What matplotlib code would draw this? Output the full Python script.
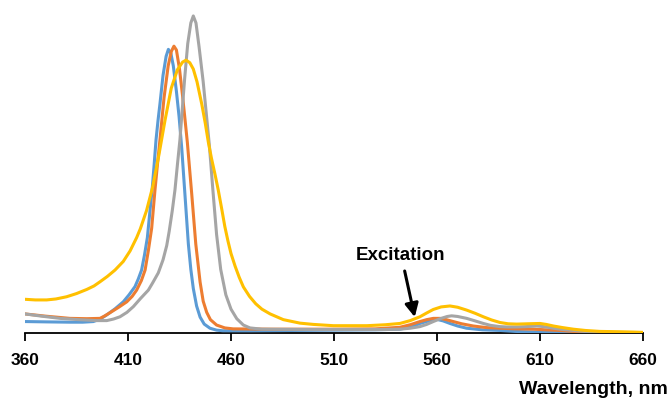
import matplotlib
matplotlib.use("Agg")
import matplotlib.pyplot as plt

# ---- data ----
wl_blue = [360, 370, 381.8, 388, 393.2, 396.5, 399.7, 403.7, 407.7, 410.5, 413.4, 415, 416.6, 418, 419.4,
           420.6, 421.7, 422.7, 423.6, 424.6, 425.5, 427, 428.5, 429.6, 430.8, 432, 433.5, 434.8, 436.1,
           437.7, 439.3, 440.5, 441.7, 443.3, 445, 447, 449.8, 453, 456, 470, 490, 510, 530, 542, 548,
           551.7, 556, 559.9, 563, 566.3, 570, 574.4, 582, 590.6, 598, 606.8, 620, 660]
int_blue = [0.036, 0.035, 0.034, 0.034, 0.036, 0.044, 0.057, 0.076, 0.098, 0.12, 0.146, 0.17, 0.198, 0.245, 0.30,
            0.38, 0.45, 0.53, 0.607, 0.67, 0.72, 0.81, 0.87, 0.892, 0.88, 0.84, 0.76, 0.68, 0.58,
            0.43, 0.28, 0.20, 0.14, 0.085, 0.05, 0.028, 0.015, 0.009, 0.007, 0.007, 0.008, 0.009, 0.010, 0.012, 0.020,
            0.030, 0.038, 0.043, 0.038, 0.030, 0.022, 0.015, 0.010, 0.008, 0.005, 0.003, 0.001, 0.0]

wl_orange = [360, 370, 381.8, 390, 396.4, 398.5, 401.3, 405.5, 409.4, 412, 414.2, 416.5, 418.3, 419.9, 421.5,
             423.1, 424.3, 425.5, 427.5, 429.5, 431, 432.3, 433.5, 435, 436.5, 437.7, 438.8, 440.9, 442.9,
             445, 446.5, 448.2, 450, 453, 457, 461, 480, 510, 530, 542, 547, 551.7, 555, 558.2, 561.5, 564.5,
             567.9, 572, 577.6, 584, 590.6, 598, 606.8, 613, 619.7, 626, 632.7, 645, 660]
int_orange = [0.060, 0.053, 0.046, 0.045, 0.046, 0.053, 0.064, 0.081, 0.098, 0.115, 0.135, 0.165, 0.198, 0.26, 0.33,
              0.45, 0.53, 0.607, 0.74, 0.84, 0.885, 0.902, 0.89, 0.83, 0.745, 0.67, 0.60, 0.44, 0.28,
              0.16, 0.10, 0.065, 0.042, 0.025, 0.016, 0.013, 0.012, 0.012, 0.013, 0.018, 0.026, 0.036, 0.042, 0.046, 0.046, 0.042,
              0.036, 0.029, 0.022, 0.017, 0.015, 0.013, 0.012, 0.010, 0.008, 0.005, 0.003, 0.001, 0.001]

wl_gray = [360, 368, 377, 386, 394.8, 399.7, 403, 406.1, 409.5, 412.6, 416, 419.9, 422, 424.7, 427, 428.8,
           430, 431.5, 432.8, 434, 435.2, 437.5, 439, 440.5, 441.7, 443, 444.5, 446.5, 448, 449.5, 451.2,
           453, 455, 457.5, 460, 462.8, 466, 469.2, 475, 500, 520, 535, 542, 547, 551.7, 555, 558.2, 562,
           565, 567.1, 570, 574.4, 578, 582.5, 586, 590.6, 594, 598.7, 603, 608.4, 612, 616.5, 621, 626.2,
           633, 645, 660]
int_gray = [0.060, 0.053, 0.046, 0.042, 0.039, 0.039, 0.044, 0.051, 0.065, 0.083, 0.108, 0.135, 0.158, 0.189, 0.23, 0.275,
            0.32, 0.385, 0.45, 0.53, 0.607, 0.80, 0.91, 0.975, 0.997, 0.975, 0.90, 0.79, 0.69, 0.59, 0.45,
            0.31, 0.20, 0.12, 0.075, 0.045, 0.025, 0.016, 0.012, 0.011, 0.011, 0.011, 0.012, 0.015, 0.020, 0.027, 0.036, 0.046,
            0.052, 0.054, 0.052, 0.046, 0.039, 0.030, 0.024, 0.020, 0.019, 0.019, 0.020, 0.022, 0.020, 0.015, 0.011, 0.008,
            0.004, 0.002, 0.001]

wl_yellow = [360, 365, 370.5, 375, 380.2, 385, 390, 393.5, 396.4, 400, 403.7, 407.7, 411, 414.2, 416, 419,
             422, 425, 428, 431, 434, 436.5, 438.2, 440, 441.7, 443.5, 445.8, 447.5, 449, 450.5, 452.2, 453.8,
             455.5, 457, 458.5, 460, 462, 464, 466, 469, 472, 475, 479, 485.4, 493.5, 500, 509.7, 518, 526,
             535, 542, 547, 551.7, 555, 558.2, 562, 566.3, 570, 574.4, 578.5, 582.5, 586.5, 590.6, 594.5,
             598.7, 604, 610, 613, 616.5, 621, 626.2, 632, 639.1, 648, 655.3, 660]
int_yellow = [0.106, 0.104, 0.104, 0.107, 0.114, 0.124, 0.137, 0.148, 0.161, 0.178, 0.198, 0.225, 0.258, 0.30, 0.328, 0.385,
              0.46, 0.56, 0.67, 0.77, 0.828, 0.852, 0.858, 0.85, 0.83, 0.79, 0.72, 0.66, 0.60, 0.55, 0.50, 0.45,
              0.39, 0.335, 0.29, 0.25, 0.21, 0.175, 0.145, 0.115, 0.092, 0.075, 0.060, 0.042, 0.031, 0.027, 0.023, 0.023, 0.023,
              0.026, 0.030, 0.039, 0.051, 0.063, 0.074, 0.082, 0.085, 0.081, 0.072, 0.062, 0.051, 0.041, 0.033, 0.029,
              0.028, 0.029, 0.030, 0.027, 0.022, 0.017, 0.012, 0.008, 0.005, 0.004, 0.003, 0.002]

x_ticks = [360, 410, 460, 510, 560, 610, 660]
annotation_text = "Excitation"
x_label = "Wavelength, nm"

# ---- figure ----
plt.rcParams['font.family'] = ['Liberation Sans', 'DejaVu Sans']
fig = plt.figure(figsize=(6.71, 3.98), dpi=100)
ax = fig.add_axes([25 / 671, 65 / 398, 618 / 671, 328 / 398])

lw = 2.2
for wl, inten, col in [(wl_blue, int_blue, '#5B9BD5'),
                       (wl_orange, int_orange, '#ED7D31'),
                       (wl_gray, int_gray, '#A5A5A5'),
                       (wl_yellow, int_yellow, '#FFC000')]:
    ax.plot(wl, inten, color=col, lw=lw, solid_joinstyle='round', solid_capstyle='round')

ax.set_xlim(360, 660)
ax.set_ylim(0, 328 / 318)
ax.set_xticks(x_ticks)
ax.set_xticklabels([str(t) for t in x_ticks], fontweight='bold', fontsize=12.5)
ax.set_yticks([])
for s in ['left', 'right', 'top']:
    ax.spines[s].set_visible(False)
ax.spines['bottom'].set_color('black')
ax.spines['bottom'].set_linewidth(1.3)
ax.spines['bottom'].set_zorder(0.5)
ax.tick_params(axis='x', direction='out', length=5.5, width=1.3, color='black', pad=9)

ax.text(542.5, 0.245, annotation_text, ha='center', va='center', fontsize=13.5, fontweight='bold')
ax.annotate('', xy=(549.2, 0.05), xytext=(544.3, 0.195),
            arrowprops=dict(arrowstyle='-|>', lw=2.2, color='black', mutation_scale=20,
                            shrinkA=0, shrinkB=0))

fig.text(668 / 671, 1 - 389 / 398, x_label, ha='right', va='center', fontsize=14, fontweight='bold')

fig.savefig('out.png', dpi=100)
